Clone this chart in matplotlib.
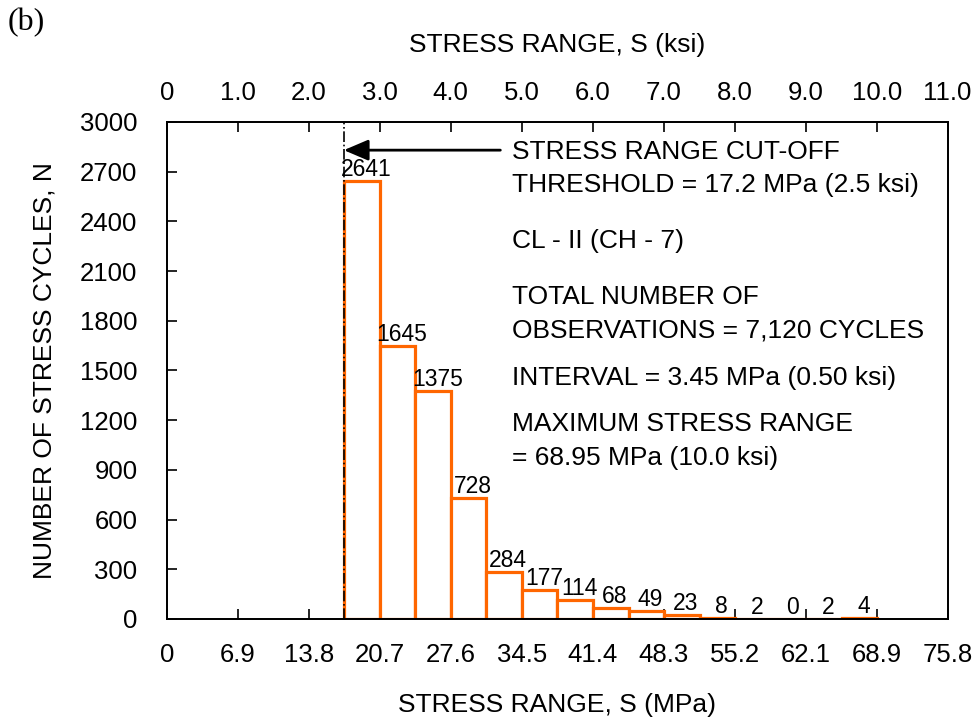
import matplotlib
matplotlib.use("Agg")
import matplotlib.pyplot as plt
import numpy as np

# ---- data ----
bin_left_mpa = [17.25, 20.70, 24.15, 27.60, 31.05, 34.50, 37.95, 41.40,
                44.85, 48.30, 51.75, 55.20, 58.65, 62.10, 65.55]
bin_width_mpa = 3.45
counts = [2641, 1645, 1375, 728, 284, 177, 114, 68, 49, 23, 8, 2, 0, 2, 4]

bottom_ticks = [0, 6.895, 13.79, 20.685, 27.58, 34.475, 41.37, 48.265,
                55.16, 62.055, 68.95, 75.845]
bottom_labels = ["0", "6.9", "13.8", "20.7", "27.6", "34.5", "41.4",
                 "48.3", "55.2", "62.1", "68.9", "75.8"]
top_ticks = [0, 1, 2, 3, 4, 5, 6, 7, 8, 9, 10, 11]
top_labels = ["0", "1.0", "2.0", "3.0", "4.0", "5.0", "6.0", "7.0",
              "8.0", "9.0", "10.0", "11.0"]
y_ticks = [0, 300, 600, 900, 1200, 1500, 1800, 2100, 2400, 2700, 3000]

threshold_mpa = 17.2
arrow_start_mpa = 32.4
arrow_y = 2830

notes = [
    (2819, "STRESS RANGE CUT-OFF"),
    (2620, "THRESHOLD = 17.2 MPa (2.5 ksi)"),
    (2282, "CL - II (CH - 7)"),
    (1944, "TOTAL NUMBER OF"),
    (1744, "OBSERVATIONS = 7,120 CYCLES"),
    (1455, "INTERVAL = 3.45 MPa (0.50 ksi)"),
    (1177, "MAXIMUM STRESS RANGE"),
    (972, "= 68.95 MPa (10.0 ksi)"),
]
notes_x = 33.5

plt.rcParams['font.family'] = ['Liberation Sans', 'DejaVu Sans']

fig = plt.figure(figsize=(9.79, 7.21), dpi=100)
ax = fig.add_axes([0.1703, 0.1415, 0.7977, 0.6893])

orange = '#FF6600'
ax.bar(bin_left_mpa, counts, width=bin_width_mpa, align='edge',
       facecolor='white', edgecolor=orange, linewidth=2.3, zorder=2)

for xl, c in zip(bin_left_mpa, counts):
    ax.text(xl + bin_width_mpa / 2 + 0.4, c, str(c), ha='center',
            va='bottom', fontsize=16.5, color='black', zorder=4)

ax.plot([threshold_mpa, threshold_mpa], [0, 3000], color='black',
        linestyle='-.', linewidth=1.2, zorder=3)

ax.annotate("", xy=(threshold_mpa, arrow_y), xytext=(arrow_start_mpa, arrow_y),
            arrowprops=dict(arrowstyle='-|>,head_length=0.75,head_width=0.32',
                            color='black', lw=2, mutation_scale=20,
                            shrinkA=0, shrinkB=0))

for y, t in notes:
    ax.text(notes_x, y, t, ha='left', va='center', fontsize=19)

ax.set_xlim(0, 75.845)
ax.set_ylim(0, 3000)
ax.set_xticks(bottom_ticks)
ax.set_xticklabels(bottom_labels)
ax.set_yticks(y_ticks)
ax.tick_params(axis='both', direction='in', length=7, width=1.2,
               labelsize=18.5, colors='black')
ax.tick_params(axis='x', pad=17)
ax.tick_params(axis='y', pad=21)
for s in ax.spines.values():
    s.set_linewidth(1.3)
    s.set_color('black')

ax.set_xlabel("STRESS RANGE, S (MPa)", fontsize=19, va='center')
ax.set_ylabel("NUMBER OF STRESS CYCLES, N", fontsize=19, va='center',
              ha='center')
ax.xaxis.set_label_coords(0.5, -0.173)
ax.yaxis.set_label_coords(-0.157, 0.5)

ax2 = ax.twiny()
ax2.set_xlim(0, 11)
ax2.set_xticks(top_ticks)
ax2.set_xticklabels(top_labels)
ax2.tick_params(axis='x', direction='in', length=7, width=1.2,
                labelsize=18.5, pad=12)
ax2.set_xlabel("STRESS RANGE, S (ksi)", fontsize=19, va='center')
ax2.xaxis.set_label_coords(0.5, 1.155)
for s in ax2.spines.values():
    s.set_linewidth(1.3)

fig.text(8 / 979, 1 - 23 / 721, "(b)", family='Liberation Serif',
         fontsize=23, ha='left', va='center')

fig.savefig("out.png", dpi=100)
